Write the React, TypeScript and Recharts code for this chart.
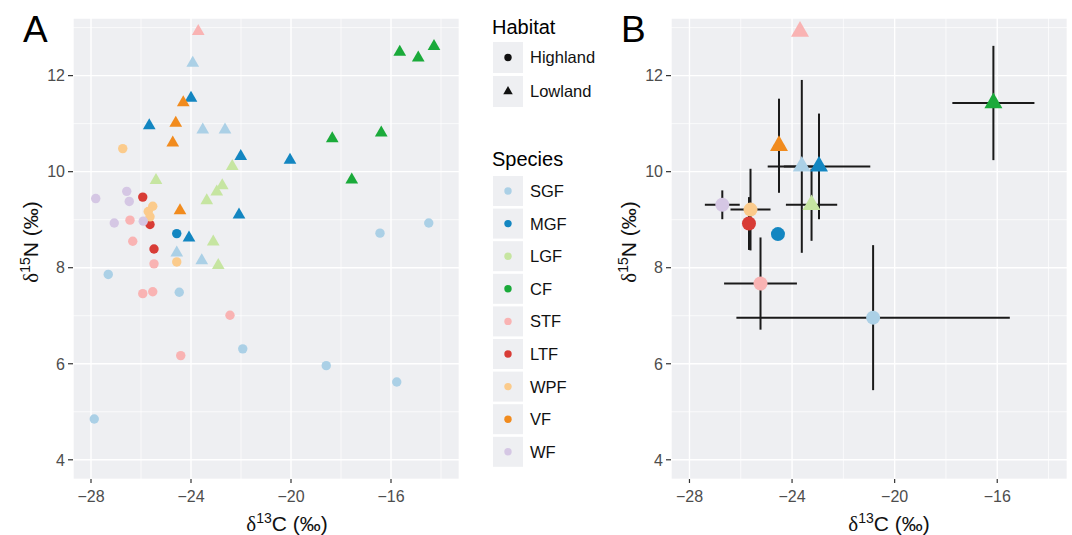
import React from 'react';
import { ScatterChart, Scatter, XAxis, YAxis, CartesianGrid, ErrorBar } from 'recharts';

const speciesNames = ['SGF', 'MGF', 'LGF', 'CF', 'STF', 'LTF', 'WPF', 'VF', 'WF'];
const speciesColors = ['#abd0e6', '#1386c1', '#c6e5a1', '#1aaa3a', '#f9b3b3', '#d83c36', '#fbcb8c', '#f18b1e', '#d5c7e4'];
const habitatNames = ['Highland', 'Lowland'];

const xTicks = [-28, -26, -24, -22, -20, -18, -16, -14];
const yTicks = [4, 5, 6, 7, 8, 9, 10, 11, 12, 13];
const xDomain = [-28.72, -13.28];
const yDomain = [3.6, 13.2];

// Panel A: individual samples [d13C, d15N]
const sgfHighland = [[-27.87, 4.85], [-27.31, 7.86], [-24.47, 7.49], [-21.93, 6.31], [-18.59, 5.96], [-16.44, 8.72], [-15.77, 5.62], [-14.49, 8.93]];
const sgfLowland = [[-23.93, 12.26], [-23.53, 10.87], [-22.64, 10.87], [-24.57, 8.31], [-23.57, 8.15]];
const mgfHighland = [[-24.57, 8.71]];
const mgfLowland = [[-24.0, 11.53], [-25.67, 10.96], [-22.01, 10.32], [-20.04, 10.24], [-22.08, 9.1], [-24.08, 8.62]];
const lgfLowland = [[-22.35, 10.11], [-25.4, 9.82], [-22.75, 9.71], [-22.97, 9.58], [-23.37, 9.4], [-23.11, 8.54], [-22.91, 8.05]];
const cfLowland = [[-18.35, 10.69], [-16.39, 10.81], [-17.57, 9.83], [-15.65, 12.49], [-14.91, 12.37], [-14.28, 12.61]];
const stfHighland = [[-26.44, 8.99], [-26.33, 8.55], [-25.48, 8.08], [-25.93, 7.46], [-25.53, 7.5], [-22.44, 7.01], [-24.41, 6.17]];
const stfLowland = [[-23.71, 12.92]];
const ltfHighland = [[-25.93, 9.47], [-25.64, 8.9], [-25.48, 8.39]];
const wpfHighland = [[-26.73, 10.48], [-25.53, 9.28], [-25.71, 9.17], [-25.64, 9.06], [-24.57, 8.12]];
const vfLowland = [[-24.31, 11.44], [-24.61, 11.01], [-24.73, 10.6], [-24.44, 9.19]];
const wfHighland = [[-27.81, 9.44], [-26.57, 9.59], [-26.47, 9.38], [-27.07, 8.93], [-25.91, 8.97]];

// Panel B: group means with SD
const meanSpecies = ['STF', 'VF', 'SGF', 'MGF', 'LGF', 'WF', 'WPF', 'LTF', 'MGF', 'STF', 'SGF', 'CF'];
const meanHabitat = ['Lowland', 'Lowland', 'Lowland', 'Lowland', 'Lowland', 'Highland', 'Highland', 'Highland', 'Highland', 'Highland', 'Highland', 'Lowland'];
const meanX = [-23.69, -24.51, -23.62, -22.95, -23.24, -26.72, -25.62, -25.68, -24.55, -25.23, -20.84, -16.15];
const meanY = [12.92, 10.54, 10.11, 10.11, 9.31, 9.31, 9.21, 8.92, 8.7, 7.67, 6.96, 11.43];
const sdX = [0, 0.2, 0.7, 2.0, 1.0, 0.68, 0.78, 0.23, 0, 1.42, 5.33, 1.6];
const sdY = [0, 0.98, 1.8, 1.1, 0.75, 0.3, 0.85, 0.55, 0, 0.96, 1.51, 1.19];

const groupsA = [
  { species: 'SGF', habitat: 'Highland', pts: sgfHighland },
  { species: 'MGF', habitat: 'Highland', pts: mgfHighland },
  { species: 'STF', habitat: 'Highland', pts: stfHighland },
  { species: 'LTF', habitat: 'Highland', pts: ltfHighland },
  { species: 'WPF', habitat: 'Highland', pts: wpfHighland },
  { species: 'WF', habitat: 'Highland', pts: wfHighland },
  { species: 'SGF', habitat: 'Lowland', pts: sgfLowland },
  { species: 'MGF', habitat: 'Lowland', pts: mgfLowland },
  { species: 'LGF', habitat: 'Lowland', pts: lgfLowland },
  { species: 'CF', habitat: 'Lowland', pts: cfLowland },
  { species: 'STF', habitat: 'Lowland', pts: stfLowland },
  { species: 'VF', habitat: 'Lowland', pts: vfLowland },
];

const pointsA = groupsA.flatMap((g) => g.pts.map(([x, y]) => ({ x, y, species: g.species, habitat: g.habitat })));
const pointsB = meanX.map((x, i) => ({ x, y: meanY[i], ex: sdX[i], ey: sdY[i], species: meanSpecies[i], habitat: meanHabitat[i] }));

const colorOf = (s: string) => speciesColors[speciesNames.indexOf(s)];
const FONT = '"Liberation Sans", Arial, Helvetica, sans-serif';
const PANEL_BG = '#eeeff2';

const triPath = (cx: number, cy: number, w: number) => {
  const h = w * 0.866;
  return `M${cx},${cy - (2 * h) / 3}L${cx + w / 2},${cy + h / 3}L${cx - w / 2},${cy + h / 3}Z`;
};

const marker = (p: any, big: boolean) => {
  const { cx, cy, payload } = p;
  const color = colorOf(payload.species);
  if (payload.habitat === 'Highland') return <circle cx={cx} cy={cy} r={big ? 7 : 4.7} fill={color} />;
  return <path d={triPath(cx, cy, big ? 18 : 12.7)} fill={color} />;
};

const fmt = (v: number) => String(v).replace('-', '\u2212');

const XTick = (p: any) => {
  const v = p.payload.value;
  if (v % 4 !== 0) return <g />;
  return (
    <g>
      <line x1={p.x} x2={p.x} y1={p.y} y2={p.y + 4} stroke="#333" strokeWidth={1.2} />
      <text x={p.x} y={p.y + 22.5} textAnchor="middle" fontSize={16} fill="#4d4d4d" fontFamily={FONT}>{fmt(v)}</text>
    </g>
  );
};

const YTick = (p: any) => {
  const v = p.payload.value;
  if (v % 2 !== 0) return <g />;
  return (
    <g>
      <line x1={p.x - 5} x2={p.x} y1={p.y} y2={p.y} stroke="#333" strokeWidth={1.2} />
      <text x={p.x - 8} y={p.y} dy="0.36em" textAnchor="end" fontSize={16} fill="#4d4d4d" fontFamily={FONT}>{fmt(v)}</text>
    </g>
  );
};

const gridLine = (p: any) => (
  <line x1={p.x1} y1={p.y1} x2={p.x2} y2={p.y2} stroke="#ffffff" strokeWidth={p.index % 2 === 0 ? 1.4 : 0.7} />
);

const Panel = ({ width, points, big }: { width: number; points: any[]; big: boolean }) => (
  <ScatterChart width={width} height={535} margin={{ top: 18, right: big ? 5 : 11, bottom: 26, left: 0 }}>
    <CartesianGrid fill={PANEL_BG} stroke="#fff" vertical={gridLine} horizontal={gridLine} />
    <XAxis type="number" dataKey="x" domain={xDomain} ticks={xTicks} allowDataOverflow height={30}
      axisLine={false} tickLine={false} tickSize={0} tickMargin={0} tick={XTick} interval={0} />
    <YAxis type="number" dataKey="y" domain={yDomain} ticks={yTicks} allowDataOverflow width={73}
      axisLine={false} tickLine={false} tickSize={0} tickMargin={0} tick={YTick} interval={0} />
    {big && (
      <Scatter data={points} isAnimationActive={false} shape={() => <g />}>
        <ErrorBar dataKey="ex" direction="x" width={0} stroke="#1a1a1a" strokeWidth={2} isAnimationActive={false} />
        <ErrorBar dataKey="ey" direction="y" width={0} stroke="#1a1a1a" strokeWidth={2} isAnimationActive={false} />
      </Scatter>
    )}
    <Scatter data={points} isAnimationActive={false} shape={(p: any) => marker(p, big)} />
  </ScatterChart>
);

const AxisTitleX = ({ cx, sup, letter }: { cx: number; sup: string; letter: string }) => (
  <text x={cx} y={531} textAnchor="middle" fontSize={21} fill="#111" fontFamily={FONT}>
    <tspan fontFamily='"Liberation Serif", "DejaVu Serif", serif'>δ</tspan>
    <tspan fontSize={14} dy={-8}>{sup}</tspan>
    <tspan dy={8}>{letter} (‰)</tspan>
  </text>
);

const AxisTitleY = ({ x, sup, letter }: { x: number; sup: string; letter: string }) => (
  <text transform={`translate(${x},242) rotate(-90)`} textAnchor="middle" fontSize={21} fill="#111" fontFamily={FONT}>
    <tspan fontFamily='"Liberation Serif", "DejaVu Serif", serif'>δ</tspan>
    <tspan fontSize={14} dy={-8}>{sup}</tspan>
    <tspan dy={8}>{letter} (‰)</tspan>
  </text>
);

export default function App() {
  return (
    <div style={{ position: 'absolute', left: 0, top: 0, width: 1072, height: 535, background: '#fff', fontFamily: FONT }}>
      <div style={{ position: 'absolute', left: 0, top: 0 }}>
        <Panel width={470} points={pointsA} big={false} />
      </div>
      <div style={{ position: 'absolute', left: 598, top: 0 }}>
        <Panel width={474} points={pointsB} big={true} />
      </div>
      <svg width={1072} height={535} style={{ position: 'absolute', left: 0, top: 0, pointerEvents: 'none' }}>
        <text x={23} y={42} fontSize={37} fill="#000" fontFamily={FONT}>A</text>
        <text x={621} y={42} fontSize={37} fill="#000" fontFamily={FONT}>B</text>
        <AxisTitleX cx={287} sup="13" letter="C" />
        <AxisTitleX cx={889} sup="13" letter="C" />
        <AxisTitleY x={38} sup="15" letter="N" />
        <AxisTitleY x={636} sup="15" letter="N" />

        <text x={492} y={34} fontSize={20} fill="#000" fontFamily={FONT}>Habitat</text>
        {habitatNames.map((h, i) => {
          const top = 42 + i * 34;
          return (
            <g key={h}>
              <rect x={493} y={top} width={30} height={31} fill={PANEL_BG} />
              {i === 0
                ? <circle cx={508} cy={top + 15.5} r={3.7} fill="#111" />
                : <path d={triPath(508, top + 15.5, 9.5)} fill="#111" />}
              <text x={530} y={top + 15.5} dy="0.36em" fontSize={16.5} fill="#111" fontFamily={FONT}>{h}</text>
            </g>
          );
        })}

        <text x={492} y={166} fontSize={20} fill="#000" fontFamily={FONT}>Species</text>
        {speciesNames.map((s, i) => {
          const top = 176 + i * 32.6;
          return (
            <g key={s}>
              <rect x={493} y={top} width={30} height={30} fill={PANEL_BG} />
              <circle cx={508} cy={top + 15} r={3.7} fill={speciesColors[i]} />
              <text x={530} y={top + 15} dy="0.36em" fontSize={16.5} fill="#111" fontFamily={FONT}>{s}</text>
            </g>
          );
        })}
      </svg>
    </div>
  );
}
